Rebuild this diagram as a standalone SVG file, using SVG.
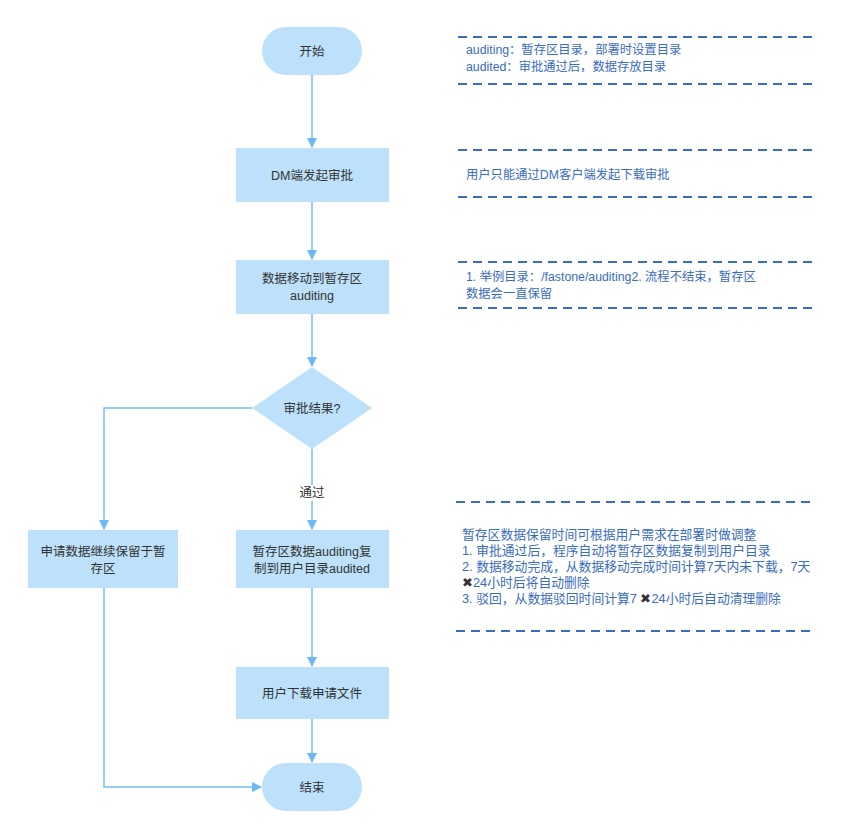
<svg xmlns="http://www.w3.org/2000/svg" width="860" height="839" viewBox="0 0 860 839">
<defs>
<marker id="ah" markerWidth="10" markerHeight="10" refX="9" refY="5" orient="auto" markerUnits="userSpaceOnUse"><path d="M0,0 L10,5 L0,10 Z" fill="#6cb8f5"/></marker>
<style>
.n{fill:#bde0fb;stroke:none}
.t{font-family:"Liberation Sans","Noto Sans CJK SC",sans-serif;font-size:12.5px;fill:#333;text-anchor:middle}
.a{font-family:"Liberation Sans","Noto Sans CJK SC",sans-serif;font-size:12.3px;fill:#3a6cc0}
.b{font-size:12.8px}
.d{stroke:#3a6cc0;stroke-width:2;stroke-dasharray:9,6;fill:none}
.c{stroke:#74bdf5;stroke-width:1.5;fill:none;marker-end:url(#ah)}
</style>
</defs>
<rect width="860" height="839" fill="#fff"/>
<g id="connectors">
<path class="c" d="M312,75 V147"/>
<path class="c" d="M312,202 V259"/>
<path class="c" d="M312,314 V366"/>
<path class="c" d="M312,449 V529"/>
<path class="c" d="M312,588 V666"/>
<path class="c" d="M312,719 V762"/>
<path class="c" d="M252,408 H104 V529"/>
<path class="c" d="M104,588 V787 H261"/>
<rect x="294" y="485" width="36" height="16" fill="#fff"/>
<text class="t" x="312" y="497">通过</text>
</g>
<g id="start"><rect class="n" x="262" y="27" width="100" height="48" rx="24"/><text class="t" x="312" y="56">开始</text></g>
<g id="dm"><rect class="n" x="236" y="148" width="153" height="54"/><text class="t" x="312" y="180">DM端发起审批</text></g>
<g id="move"><rect class="n" x="236" y="260" width="153" height="54"/><text class="t" x="312" y="283">数据移动到暂存区</text><text class="t" x="312" y="300">auditing</text></g>
<g id="decision"><polygon class="n" points="312,367 372,408 312,449 252,408"/><text class="t" x="312" y="413">审批结果?</text></g>
<g id="keep"><rect class="n" x="28" y="530" width="150" height="58"/><text class="t" x="103" y="556">申请数据继续保留于暂</text><text class="t" x="103" y="573">存区</text></g>
<g id="copy"><rect class="n" x="236" y="530" width="153" height="58"/><text class="t" x="312" y="556">暂存区数据auditing复</text><text class="t" x="312" y="573">制到用户目录audited</text></g>
<g id="download"><rect class="n" x="236" y="667" width="153" height="52"/><text class="t" x="312" y="698">用户下载申请文件</text></g>
<g id="end"><rect class="n" x="262" y="763" width="100" height="48" rx="24"/><text class="t" x="312" y="792">结束</text></g>
<g id="notes">
<path class="d" d="M458,37 H815 M458,84 H815 M458,150 H815 M458,197 H815 M458,262 H815 M458,308 H815 M456,502 H815 M456,631 H815"/>
<text class="a" x="466" y="54">auditing：暂存区目录，部署时设置目录</text>
<text class="a" x="466" y="71">audited：审批通过后，数据存放目录</text>
<text class="a" x="466" y="179">用户只能通过DM客户端发起下载审批</text>
<text class="a" x="466" y="281">1. 举例目录：/fastone/auditing2. 流程不结束，暂存区</text>
<text class="a" x="466" y="298">数据会一直保留</text>
<text class="a b" x="462" y="539">暂存区数据保留时间可根据用户需求在部署时做调整</text>
<text class="a b" x="462" y="555">1. 审批通过后，程序自动将暂存区数据复制到用户目录</text>
<text class="a b" x="462" y="571">2. 数据移动完成，从数据移动完成时间计算7天内未下载，7天</text>
<text class="a b" x="462" y="587"><tspan fill="#333">✖</tspan>24小时后将自动删除</text>
<text class="a b" x="462" y="603">3. 驳回，从数据驳回时间计算7 <tspan fill="#333">✖</tspan>24小时后自动清理删除</text>
</g>
</svg>
